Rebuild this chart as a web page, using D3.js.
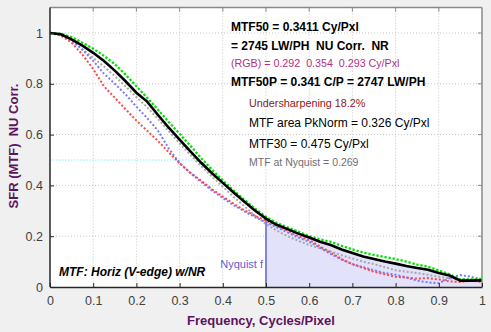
<!DOCTYPE html>
<html>
<head>
<meta charset="utf-8">
<script src="https://cdn.jsdelivr.net/npm/d3@7"></script>
<style>
  body { margin: 0; background: #f0f0f0; }
  text { font-family: "Liberation Sans", Arial, sans-serif; }
</style>
</head>
<body>
<div id="chart"></div>
<script>
// frequency grid, cycles/pixel
var freq = [0, 0.025, 0.05, 0.075, 0.1, 0.125, 0.15, 0.175, 0.2, 0.225, 0.25, 0.275, 0.3, 0.325, 0.35, 0.375, 0.4, 0.425, 0.45, 0.475,
            0.5, 0.525, 0.55, 0.575, 0.6, 0.625, 0.65, 0.675, 0.7, 0.725, 0.75, 0.775, 0.8, 0.825, 0.85, 0.875, 0.9, 0.925, 0.95, 0.975, 1.0];

var mtf_luma = [1.0, 0.995, 0.975, 0.95, 0.922, 0.89, 0.852, 0.81, 0.765, 0.73, 0.677, 0.627, 0.58, 0.534, 0.489, 0.448, 0.41, 0.372, 0.336, 0.300,
                0.269, 0.245, 0.228, 0.21, 0.195, 0.178, 0.165, 0.148, 0.134, 0.12, 0.11, 0.1, 0.092, 0.083, 0.075, 0.068, 0.055, 0.045, 0.025, 0.025, 0.026];
var mtf_green = [1.0, 0.997, 0.984, 0.962, 0.938, 0.91, 0.877, 0.836, 0.79, 0.745, 0.698, 0.65, 0.603, 0.556, 0.507, 0.462, 0.42, 0.38, 0.343, 0.308,
                 0.276, 0.252, 0.235, 0.218, 0.2, 0.188, 0.178, 0.162, 0.148, 0.136, 0.126, 0.118, 0.11, 0.1, 0.088, 0.08, 0.065, 0.05, 0.03, 0.03, 0.032];
var mtf_red = [1.0, 0.99, 0.962, 0.915, 0.858, 0.79, 0.745, 0.7, 0.655, 0.615, 0.575, 0.53, 0.487, 0.45, 0.418, 0.385, 0.356, 0.328, 0.302, 0.28,
               0.262, 0.24, 0.222, 0.2, 0.185, 0.16, 0.135, 0.11, 0.09, 0.075, 0.06, 0.05, 0.04, 0.037, 0.033, 0.035, 0.03, 0.022, 0.02, 0.025, 0.02];
var mtf_blue = [1.0, 0.993, 0.972, 0.935, 0.89, 0.84, 0.8, 0.758, 0.71, 0.665, 0.615, 0.545, 0.488, 0.448, 0.414, 0.38, 0.35, 0.322, 0.298, 0.275,
                0.255, 0.235, 0.215, 0.195, 0.178, 0.155, 0.13, 0.108, 0.09, 0.078, 0.066, 0.055, 0.048, 0.038, 0.025, 0.018, 0.015, 0.035, 0.047, 0.04, 0.03];
var mtf_gray = [1.0, 0.99, 0.968, 0.935, 0.902, 0.868, 0.83, 0.79, 0.748, 0.707, 0.662, 0.613, 0.566, 0.52, 0.476, 0.435, 0.395, 0.355, 0.318, 0.28,
                0.248, 0.222, 0.2, 0.182, 0.165, 0.152, 0.14, 0.125, 0.112, 0.1, 0.09, 0.078, 0.066, 0.06, 0.055, 0.048, 0.04, 0.035, 0.03, 0.03, 0.03];

var x_ticks = [0, 0.1, 0.2, 0.3, 0.4, 0.5, 0.6, 0.7, 0.8, 0.9, 1];
var y_ticks = [0, 0.2, 0.4, 0.6, 0.8, 1];

var mtf50 = 0.341;
var nyquist = 0.5;
var mtf_nyquist = 0.269;

var notes = [
  ["MTF50 = 0.3411 Cy/Pxl", 231, 31, "bold", 12, "#000"],
  ["= 2745 LW/PH  NU Corr.  NR", 231, 50, "bold", 12, "#000"],
  ["(RGB) = 0.292  0.354  0.293 Cy/Pxl", 231, 67, "normal", 10.7, "#b03080"],
  ["MTF50P = 0.341 C/P = 2747 LW/PH", 231, 86, "bold", 12, "#000"],
  ["Undersharpening 18.2%", 249, 107, "normal", 10.8, "#8b1a1a"],
  ["MTF area PkNorm = 0.326 Cy/Pxl", 249, 127, "normal", 12, "#000"],
  ["MTF30 = 0.475 Cy/Pxl", 249, 148, "normal", 12, "#000"],
  ["MTF at Nyquist = 0.269", 249, 166, "normal", 10.5, "#707070"]
];

var left_border = 50, right_border = 482, top_border = 7.6, bottom_border = 287;

var svg = d3.select("#chart")
            .append("svg")
            .attr("width", 491)
            .attr("height", 332);

svg.append("rect").attr("width", 491).attr("height", 332).attr("fill", "#f0f0f0");

var x = d3.scaleLinear().domain([0, 1]).range([left_border, right_border]);
var y = d3.scaleLinear().domain([0, 1.1]).range([bottom_border, top_border]);

svg.append("rect")
   .attr("x", left_border).attr("y", top_border)
   .attr("width", right_border - left_border)
   .attr("height", bottom_border - top_border)
   .attr("fill", "#ffffff");

// grid
svg.selectAll("xgrid")
   .data(x_ticks.slice(1, -1))
   .enter().append("line")
   .attr("x1", d => x(d)).attr("x2", d => x(d))
   .attr("y1", top_border).attr("y2", bottom_border)
   .attr("stroke", "#c4c4c4").attr("stroke-width", 1)
   .attr("stroke-dasharray", "1,2");

svg.selectAll("ygrid")
   .data(y_ticks.slice(1))
   .enter().append("line")
   .attr("x1", left_border).attr("x2", right_border)
   .attr("y1", d => y(d)).attr("y2", d => y(d))
   .attr("stroke", "#c4c4c4").attr("stroke-width", 1)
   .attr("stroke-dasharray", "1,2");

// shaded region above Nyquist
var points = freq.map(function(f, i) { return [f, mtf_luma[i]]; });
var area = d3.area()
   .x(d => x(d[0]))
   .y0(y(0))
   .y1(d => y(d[1]));
svg.append("path")
   .datum(points.filter(d => d[0] >= nyquist))
   .attr("d", area)
   .attr("fill", "#e2e2fa");

// MTF50 marker
svg.append("line")
   .attr("x1", x(0)).attr("x2", x(mtf50))
   .attr("y1", y(0.5)).attr("y2", y(0.5))
   .attr("stroke", "#7ff0ff").attr("stroke-width", 1)
   .attr("stroke-dasharray", "1.5,1.5");

// Nyquist marker
svg.append("line")
   .attr("x1", x(nyquist)).attr("x2", x(nyquist))
   .attr("y1", y(0)).attr("y2", y(mtf_nyquist))
   .attr("stroke", "#8484dc").attr("stroke-width", 2);

svg.append("text")
   .attr("x", x(nyquist) - 3).attr("y", 268)
   .attr("text-anchor", "end")
   .style("font-size", "11px")
   .style("fill", "#6060d0")
   .text("Nyquist f");

var line = d3.line()
   .x(d => x(d[0]))
   .y(d => y(d[1]));

var series = [
  [mtf_gray, "#a8a8a8", 2, "2,2"],
  [mtf_blue, "#7878ff", 2, "2,2"],
  [mtf_red, "#ff4848", 2, "2,2"],
  [mtf_green, "#00e000", 2.3, "2.3,1.8"],
  [mtf_luma, "#000000", 2.6, null]
];

svg.selectAll("curves")
   .data(series)
   .enter()
   .append("path")
   .attr("d", function(s) { return line(freq.map(function(f, i) { return [f, s[0][i]]; })); })
   .attr("fill", "none")
   .attr("stroke", s => s[1])
   .attr("stroke-width", s => s[2])
   .attr("stroke-dasharray", s => s[3]);

// box with inward ticks
svg.append("line").attr("x1", left_border).attr("x2", right_border).attr("y1", top_border).attr("y2", top_border)
   .attr("stroke", "#8a8a8a").attr("stroke-width", 1.5);
svg.append("line").attr("x1", right_border).attr("x2", right_border).attr("y1", top_border).attr("y2", bottom_border)
   .attr("stroke", "#8a8a8a").attr("stroke-width", 1.5);

svg.selectAll("xticktop")
   .data(x_ticks.slice(1, -1))
   .enter().append("line")
   .attr("x1", d => x(d)).attr("x2", d => x(d))
   .attr("y1", top_border).attr("y2", top_border + 4)
   .attr("stroke", "#8a8a8a");
svg.selectAll("ytickright")
   .data(y_ticks.slice(1))
   .enter().append("line")
   .attr("x1", right_border - 4).attr("x2", right_border)
   .attr("y1", d => y(d)).attr("y2", d => y(d))
   .attr("stroke", "#8a8a8a");

var xAxis = svg.append("g")
   .attr("transform", "translate(0," + bottom_border + ")")
   .call(d3.axisBottom(x).tickValues(x_ticks).tickSizeInner(-4).tickSizeOuter(0)
         .tickFormat(d => d === 0 || d === 1 ? d3.format("d")(d) : d3.format(".1f")(d)));
var yAxis = svg.append("g")
   .attr("transform", "translate(" + left_border + ",0)")
   .call(d3.axisLeft(y).tickValues(y_ticks).tickSizeInner(-4).tickSizeOuter(0)
         .tickFormat(d => d === 0 || d === 1 ? d3.format("d")(d) : d3.format(".1f")(d)));

[xAxis, yAxis].forEach(function(g) {
  g.select(".domain").attr("stroke", "#262626").attr("stroke-width", 1.5);
  g.selectAll(".tick line").attr("stroke", "#262626");
  g.selectAll(".tick text")
   .style("font-family", "Liberation Sans, Arial, sans-serif")
   .style("font-size", "12.5px")
   .attr("fill", "#404040");
});
xAxis.selectAll(".tick text").attr("dy", "1.2em");
yAxis.selectAll(".tick text").attr("x", -7);
// the axis path only spans the range, extend the left one up to the top
yAxis.select(".domain").attr("d", "M0," + bottom_border + "V" + top_border);

// titles
svg.append("text")
   .attr("x", 261).attr("y", 325)
   .attr("text-anchor", "middle")
   .style("font-size", "13px").style("font-weight", "bold")
   .style("fill", "#5e1361")
   .text("Frequency, Cycles/Pixel");

svg.append("text")
   .attr("transform", "translate(18,146) rotate(-90)")
   .attr("text-anchor", "middle")
   .style("font-size", "13px").style("font-weight", "bold")
   .style("fill", "#5e1361")
   .style("white-space", "pre")
   .text("SFR (MTF)  NU Corr.");

svg.append("text")
   .attr("x", 59).attr("y", 276)
   .style("font-size", "12px").style("font-weight", "bold").style("font-style", "italic")
   .style("fill", "#000")
   .text("MTF: Horiz (V-edge) w/NR");

svg.selectAll("notes")
   .data(notes)
   .enter()
   .append("text")
   .attr("x", d => d[1])
   .attr("y", d => d[2])
   .style("font-weight", d => d[3])
   .style("font-size", d => d[4] + "px")
   .style("fill", d => d[5])
   .style("white-space", "pre")
   .text(d => d[0]);
</script>
</body>
</html>
